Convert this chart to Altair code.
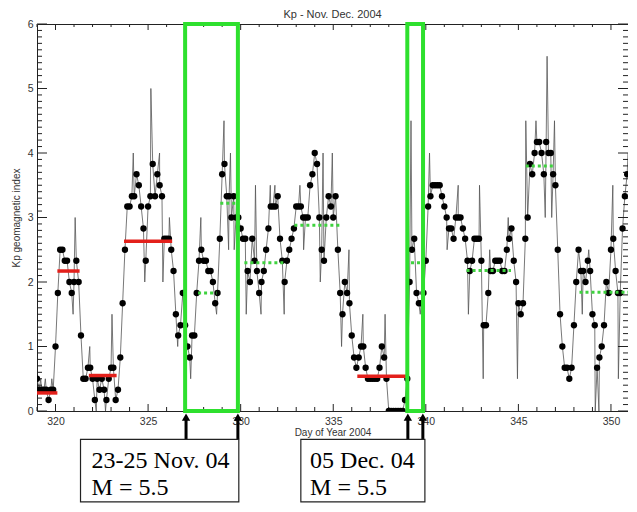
import altair as alt
import pandas as pd

# ---------------- data ----------------
TITLE = "Kp - Nov. Dec. 2004"
DAYS = list(range(319, 351))
KP_3H = [
    [0.5, 0.33, 0.33, 0.33, 0.33, 0.17, 0.33, 0.33],   # 319
    [1.0, 1.83, 2.5, 2.5, 2.33, 2.33, 2.0, 1.83],      # 320
    [2.0, 2.33, 2.0, 1.17, 0.5, 0.5, 0.67, 0.67],      # 321
    [0.5, 0.17, 0.5, 0.33, 0.5, 0.33, 0.17, 0.5],      # 322
    [0.67, 0.67, 0.17, 0.33, 0.83, 1.67, 2.5, 3.17],   # 323
    [3.17, 3.33, 3.33, 3.67, 3.5, 3.17, 2.83, 2.33],   # 324
    [3.17, 3.33, 3.83, 3.33, 3.67, 3.5, 3.33, 2.67],   # 325
    [2.67, 2.67, 2.5, 2.17, 1.5, 1.17, 1.33, 1.83],    # 326
    [1.33, 1.0, 0.83, 1.17, 1.17, 1.83, 2.33, 2.5],    # 327
    [2.33, 2.33, 2.17, 2.17, 2.0, 1.67, 1.83, 2.67],   # 328
    [3.67, 3.83, 3.33, 3.33, 3.0, 3.33, 3.0, 3.0],     # 329
    [2.83, 2.67, 2.67, 2.17, 2.0, 2.67, 2.33, 2.17],   # 330
    [1.83, 2.0, 2.17, 2.5, 2.83, 3.17, 3.17, 3.17],    # 331
    [3.33, 2.67, 2.33, 2.0, 2.33, 2.5, 2.67, 2.83],    # 332
    [3.17, 3.17, 3.17, 3.0, 3.0, 3.0, 3.5, 3.67],      # 333
    [4.0, 3.83, 3.0, 2.5, 2.33, 3.0, 3.33, 3.17],      # 334
    [3.0, 3.33, 2.5, 1.83, 1.5, 2.0, 1.83, 1.67],      # 335
    [1.17, 0.83, 0.67, 0.83, 1.0, 1.0, 0.67, 0.5],     # 336
    [0.5, 0.5, 0.5, 0.5, 0.67, 1.0, 0.83, 0.5],        # 337
    [0.0, 0.0, 0.0, 0.0, 0.0, 0.0, 0.0, 0.17],         # 338
    [0.5, 2.0, 2.5, 2.67, 1.83, 1.67, 1.67, 1.83],     # 339
    [2.33, 3.17, 3.33, 3.5, 3.5, 3.5, 3.5, 3.33],      # 340
    [3.17, 3.0, 2.83, 2.83, 2.67, 3.0, 3.0, 3.0],      # 341
    [2.83, 2.67, 2.33, 2.17, 2.33, 2.67, 2.67, 2.67],  # 342
    [2.33, 1.33, 1.33, 1.83, 2.17, 2.17, 2.33, 2.33],  # 343
    [2.33, 2.17, 2.17, 2.5, 2.67, 2.83, 2.33, 2.0],    # 344
    [1.67, 1.5, 1.67, 2.67, 3.0, 3.83, 3.67, 4.0],     # 345
    [4.17, 4.17, 4.0, 3.67, 4.17, 4.0, 4.0, 3.67],     # 346
    [3.5, 2.5, 1.5, 1.0, 0.67, 0.67, 0.5, 0.67],       # 347
    [1.33, 2.0, 2.5, 2.17, 2.17, 2.0, 2.33, 2.17],     # 348
    [1.5, 1.33, 0.67, 0.83, 1.0, 1.33, 2.0, 1.83],     # 349
    [2.5, 2.67, 2.17, 1.83, 1.83, 2.83, 3.33, 3.67],   # 350
]

# extra turning points of the thin (higher resolution) trace
SPIKE_DAY = [319.2, 319.45, 319.8, 320.95, 321.06, 321.85, 322.2, 322.7, 323.05,
             324.2, 324.82, 325.15, 325.62, 325.8, 326.15, 326.6, 327.3, 327.85,
             328.7, 329.1, 329.35, 329.45, 329.65, 329.8, 330.3, 330.8, 331.1,
             331.6, 331.85, 332.35, 333.2, 333.4, 334.3, 334.45, 334.95, 335.45,
             335.85, 336.6, 337.8, 339.2, 339.7, 340.2, 341.15, 341.75, 342.3,
             342.9, 343.1, 343.45, 344.45, 344.95, 345.4, 345.95, 346.45, 346.55,
             346.8, 346.95, 348.45, 348.8, 349.15, 349.35, 350.1, 350.4, 350.92]
SPIKE_KP = [0.5, 0.5, 0.5, 1.5, 3.0, 1.0, 0.0, 0.0, 1.5,
            4.0, 2.0, 5.0, 4.0, 2.0, 3.0, 1.0, 0.5, 3.0,
            1.5, 4.5, 2.5, 4.0, 2.5, 3.5, 1.5, 3.5, 1.5,
            3.5, 3.5, 1.5, 3.5, 2.5, 2.0, 4.0, 4.0, 1.0,
            2.5, 1.5, 1.5, 4.5, 1.5, 4.0, 2.5, 3.5, 1.5,
            3.5, 0.5, 2.5, 3.0, 0.5, 4.5, 4.5, 3.0, 5.5,
            3.0, 4.5, 1.5, 2.5, 0.0, 0.0, 3.5, 0.5, 4.0]

# interval means
RED_START = [319.0, 320.1, 321.8, 323.7, 336.3]
RED_END = [320.1, 321.3, 323.3, 326.3, 339.0]
RED_KP = [0.28, 2.17, 0.55, 2.63, 0.54]
GREEN_START = [327.7, 328.9, 330.2, 332.9, 339.2, 342.2, 345.4, 348.3]
GREEN_END = [328.7, 329.75, 332.3, 335.4, 339.85, 344.6, 347.0, 350.92]
GREEN_KP = [1.83, 3.22, 2.3, 2.88, 2.3, 2.18, 3.8, 1.84]

# event windows and labels
BOX_START = [327.0, 339.0]
BOX_END = [329.85, 339.85]
ARROW_DAY = [327.05, 329.85, 339.03, 339.84]
ANN_START = [321.35, 333.25]
ANN_END = [329.9, 339.95]
ANN_TEXT_X = [321.95, 333.75]
ANN_LINE1 = ["23-25 Nov. 04", "05 Dec. 04"]
ANN_LINE2 = ["M = 5.5", "M = 5.5"]

X_MAJOR = [320, 325, 330, 335, 340, 345, 350]
X_MINOR = [d for d in range(319, 351) if d not in X_MAJOR]
Y_MAJOR = [0, 1, 2, 3, 4, 5, 6]
Y_MINOR = [round(i / 10, 1) for i in range(1, 60) if i % 10 != 0]

# ---------------- layout constants ----------------
W, H = 591, 387
ANN_TOP, ANN_BOTTOM = -0.44, -1.41
LINE1_Y, LINE2_Y = -0.89, -1.31
SHAFT_TOP, SHAFT_BOTTOM = -0.12, -0.44
HEAD_Y = -0.095

# ---------------- tables ----------------
dots_t, dots_v = [], []
for d, vals in zip(DAYS, KP_3H):
    for i, v in enumerate(vals):
        dots_t.append(d + i / 8)
        dots_v.append(v)
dots_df = pd.DataFrame({"t": dots_t, "kp": dots_v})
line_df = pd.concat([dots_df, pd.DataFrame({"t": SPIKE_DAY, "kp": SPIKE_KP})]).sort_values("t")
red_df = pd.DataFrame({"s": RED_START, "e": RED_END, "kp": RED_KP})
green_df = pd.DataFrame({"s": GREEN_START, "e": GREEN_END, "kp": GREEN_KP})
box_df = pd.DataFrame({"s": BOX_START, "e": BOX_END, "lo": 0, "hi": 6})
arrow_df = pd.DataFrame({"x": ARROW_DAY, "a": SHAFT_TOP, "b": SHAFT_BOTTOM, "h": HEAD_Y})
ann_df = pd.DataFrame({"s": ANN_START, "e": ANN_END, "tx": ANN_TEXT_X,
                       "l1": ANN_LINE1, "l2": ANN_LINE2,
                       "top": ANN_TOP, "bot": ANN_BOTTOM, "y1": LINE1_Y, "y2": LINE2_Y})
title_df = pd.DataFrame({"title": [TITLE]})

xs = alt.Scale(domain=[319.0, 350.92], nice=False, zero=False)
ys = alt.Scale(domain=[0, 6], nice=False, zero=False)
XAX = alt.Axis(values=X_MAJOR, format="d", title="Day of Year 2004",
               ticks=False, domain=False, grid=False, labelPadding=5, titlePadding=1)
YAX = alt.Axis(values=Y_MAJOR, format="d", title="Kp geomagnetic index",
               ticks=False, domain=False, grid=False, labelPadding=4, titlePadding=6)


def xq(f):
    return alt.X(f, type="quantitative", scale=xs, axis=XAX)


def yq(f):
    return alt.Y(f, type="quantitative", scale=ys, axis=YAX)


def vtick(vals, bottom, length):
    df = pd.DataFrame({"v": vals})
    y0 = H if bottom else 0
    y1 = H - length if bottom else length
    return alt.Chart(df).mark_rule(color="#222", strokeWidth=1).encode(
        x=xq("v"), y=alt.value(y0), y2=alt.value(y1))


def htick(vals, left, length):
    df = pd.DataFrame({"v": vals})
    x0 = 0 if left else W
    x1 = length if left else W - length
    return alt.Chart(df).mark_rule(color="#222", strokeWidth=1).encode(
        y=yq("v"), x=alt.value(x0), x2=alt.value(x1))


ticks = [
    vtick(X_MAJOR, True, 7), vtick(X_MINOR, True, 4),
    vtick(X_MAJOR, False, 6), vtick(X_MINOR, False, 3),
    htick(Y_MAJOR, True, 10), htick(Y_MINOR, True, 5),
    htick(Y_MAJOR, False, 10), htick(Y_MINOR, False, 5),
]

line = alt.Chart(line_df).mark_line(color="#555", strokeWidth=0.8, clip=True).encode(
    x=xq("t"), y=yq("kp"))

dots = alt.Chart(dots_df).mark_circle(color="black", size=40, opacity=1, clip=True).encode(
    x=xq("t"), y=yq("kp"))

red = alt.Chart(red_df).mark_rule(color="#e3201b", strokeWidth=3.5).encode(
    x=xq("s"), x2="e", y=yq("kp"))

green = alt.Chart(green_df).mark_rule(color="#3fd23f", strokeWidth=3, strokeDash=[3, 3]).encode(
    x=xq("s"), x2="e", y=yq("kp"))

boxes = alt.Chart(box_df).mark_rect(fillOpacity=0, stroke="#2ee02e", strokeWidth=4).encode(
    x=xq("s"), x2="e", y=yq("lo"), y2="hi")

shafts = alt.Chart(arrow_df).mark_rule(color="black", strokeWidth=3).encode(
    x=xq("x"), y=yq("a"), y2="b")

heads = alt.Chart(arrow_df).mark_point(shape="triangle-up", filled=True, color="black",
                                       size=70, opacity=1).encode(
    x=xq("x"), y=yq("h"))

ann_box = alt.Chart(ann_df).mark_rect(fill="white", stroke="#222", strokeWidth=1.2).encode(
    x=xq("s"), x2="e", y=yq("top"), y2="bot")

ann_t1 = alt.Chart(ann_df).mark_text(font="Liberation Serif", fontSize=24, align="left",
                                     baseline="alphabetic", color="black").encode(
    x=xq("tx"), y=yq("y1"), text="l1:N")

ann_t2 = alt.Chart(ann_df).mark_text(font="Liberation Serif", fontSize=24, align="left",
                                     baseline="alphabetic", color="black").encode(
    x=xq("tx"), y=yq("y2"), text="l2:N")

title = alt.Chart(title_df).mark_text(font="Liberation Sans", fontSize=11, align="center",
                                      baseline="middle", color="#333").encode(
    x=alt.value(W / 2), y=alt.value(-9), text="title:N")

chart = alt.layer(
    line, *ticks, dots, red, green, boxes, shafts, heads, ann_box, ann_t1, ann_t2, title
).properties(
    width=W, height=H,
    padding={"left": 29, "top": 16, "right": 0, "bottom": 93},
    autosize=alt.AutoSizeParams(type="none"),
).configure_view(
    stroke="#222", strokeWidth=1
).configure_axis(
    labelFont="Liberation Sans", labelFontSize=10.5, labelColor="#333",
    titleFont="Liberation Sans", titleFontSize=10, titleFontWeight="normal", titleColor="#333",
)

chart.save("out.html", embed_options={"renderer": "svg", "actions": False})
